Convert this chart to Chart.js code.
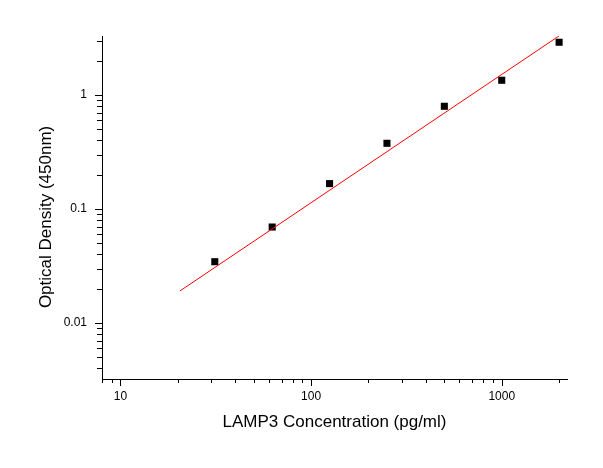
<!DOCTYPE html>
<html>
<head>
<meta charset="utf-8">
<script src="https://cdn.jsdelivr.net/npm/chart.js@4/dist/chart.umd.min.js"></script>
<style>
  html, body { margin: 0; padding: 0; background: #fff; }
  #wrap { width: 603px; height: 468px; }
</style>
</head>
<body>
<div id="wrap"><canvas id="odChart" width="603" height="468"></canvas></div>
<script>
// standard points (pg/ml vs OD)
const concentrations = [31.25, 62.5, 125, 250, 500, 1000, 2000];
const odValues = [0.0345, 0.0695, 0.167, 0.377, 0.796, 1.346, 2.90];

// fitted line end points
const fitX = [20.5, 2000];
const fitY = [0.0191, 3.3];

const xTicks = [8, 9, 10, 20, 30, 40, 50, 60, 70, 80, 90, 100, 200, 300, 400, 500, 600, 700, 800, 900, 1000, 2000];
const xLabels = [10, 100, 1000];
const yTicks = [0.004, 0.005, 0.006, 0.007, 0.008, 0.009, 0.01, 0.02, 0.03, 0.04, 0.05, 0.06, 0.07, 0.08, 0.09,
  0.1, 0.2, 0.3, 0.4, 0.5, 0.6, 0.7, 0.8, 0.9, 1, 2, 3];
const yLabels = [0.01, 0.1, 1];

const isDecade = v => Math.abs(Math.log10(v) - Math.round(Math.log10(v))) < 1e-9;

// ticks drawn by hand so major and minor can have different lengths
const tickMarks = {
  id: 'tickMarks',
  afterDraw(chart) {
    const ctx = chart.ctx;
    const xs = chart.scales.x, ys = chart.scales.y;
    const area = chart.chartArea;
    ctx.save();
    ctx.strokeStyle = '#000';
    ctx.lineWidth = 1;
    ctx.beginPath();
    for (const t of xs.ticks) {
      const px = Math.round(xs.getPixelForValue(t.value)) + 0.5;
      const len = isDecade(t.value) ? 7 : 4;
      ctx.moveTo(px, area.bottom);
      ctx.lineTo(px, area.bottom + len);
    }
    for (const t of ys.ticks) {
      const py = Math.round(ys.getPixelForValue(t.value)) + 0.5;
      const len = isDecade(t.value) ? 7 : 5;
      ctx.moveTo(area.left, py);
      ctx.lineTo(area.left - len, py);
    }
    ctx.stroke();
    ctx.restore();
  }
};

Chart.defaults.font.family = 'Arial, "Liberation Sans", sans-serif';
Chart.defaults.color = '#000';

new Chart(document.getElementById('odChart').getContext('2d'), {
  type: 'scatter',
  data: {
    datasets: [
      {
        label: 'fit',
        data: fitX.map((x, i) => ({ x, y: fitY[i] })),
        showLine: true,
        borderColor: '#ff0000',
        borderWidth: 1,
        pointRadius: 0,
        fill: false
      },
      {
        label: 'standards',
        data: concentrations.map((x, i) => ({ x, y: odValues[i] })),
        pointStyle: 'rect',
        pointRadius: 5,
        backgroundColor: '#000',
        borderWidth: 0
      }
    ]
  },
  options: {
    responsive: false,
    animation: false,
    layout: { padding: { top: 36, right: 36, left: 0, bottom: 0 } },
    plugins: { legend: { display: false }, tooltip: { enabled: false } },
    scales: {
      x: {
        type: 'logarithmic',
        min: 8,
        max: 2200,
        afterBuildTicks: s => { s.ticks = xTicks.map(v => ({ value: v })); },
        afterFit: s => { s.height = 89; },
        ticks: {
          autoSkip: false,
          maxRotation: 0,
          padding: 3,
          font: { size: 12 },
          callback: v => xLabels.includes(v) ? String(v) : ''
        },
        grid: { drawOnChartArea: false, tickLength: 7, color: 'rgba(0,0,0,0)' },
        border: { display: true, color: '#000', width: 1 },
        title: {
          display: true,
          text: 'LAMP3 Concentration (pg/ml)',
          font: { size: 17 },
          padding: { top: 4, bottom: 35 }
        }
      },
      y: {
        type: 'logarithmic',
        min: 0.00323,
        max: 3.29,
        afterBuildTicks: s => { s.ticks = yTicks.map(v => ({ value: v })); },
        afterFit: s => { s.width = 102; },
        ticks: {
          autoSkip: false,
          padding: 8,
          font: { size: 12 },
          callback: v => yLabels.includes(v) ? String(v) : ''
        },
        grid: { drawOnChartArea: false, tickLength: 7, color: 'rgba(0,0,0,0)' },
        border: { display: true, color: '#000', width: 1 },
        title: {
          display: true,
          // trailing spaces push the title a little lower, as in the original
          text: 'Optical Density (450nm)    ',
          font: { size: 17 },
          padding: { top: 36, bottom: 4 }
        }
      }
    }
  },
  plugins: [tickMarks]
});
</script>
</body>
</html>
